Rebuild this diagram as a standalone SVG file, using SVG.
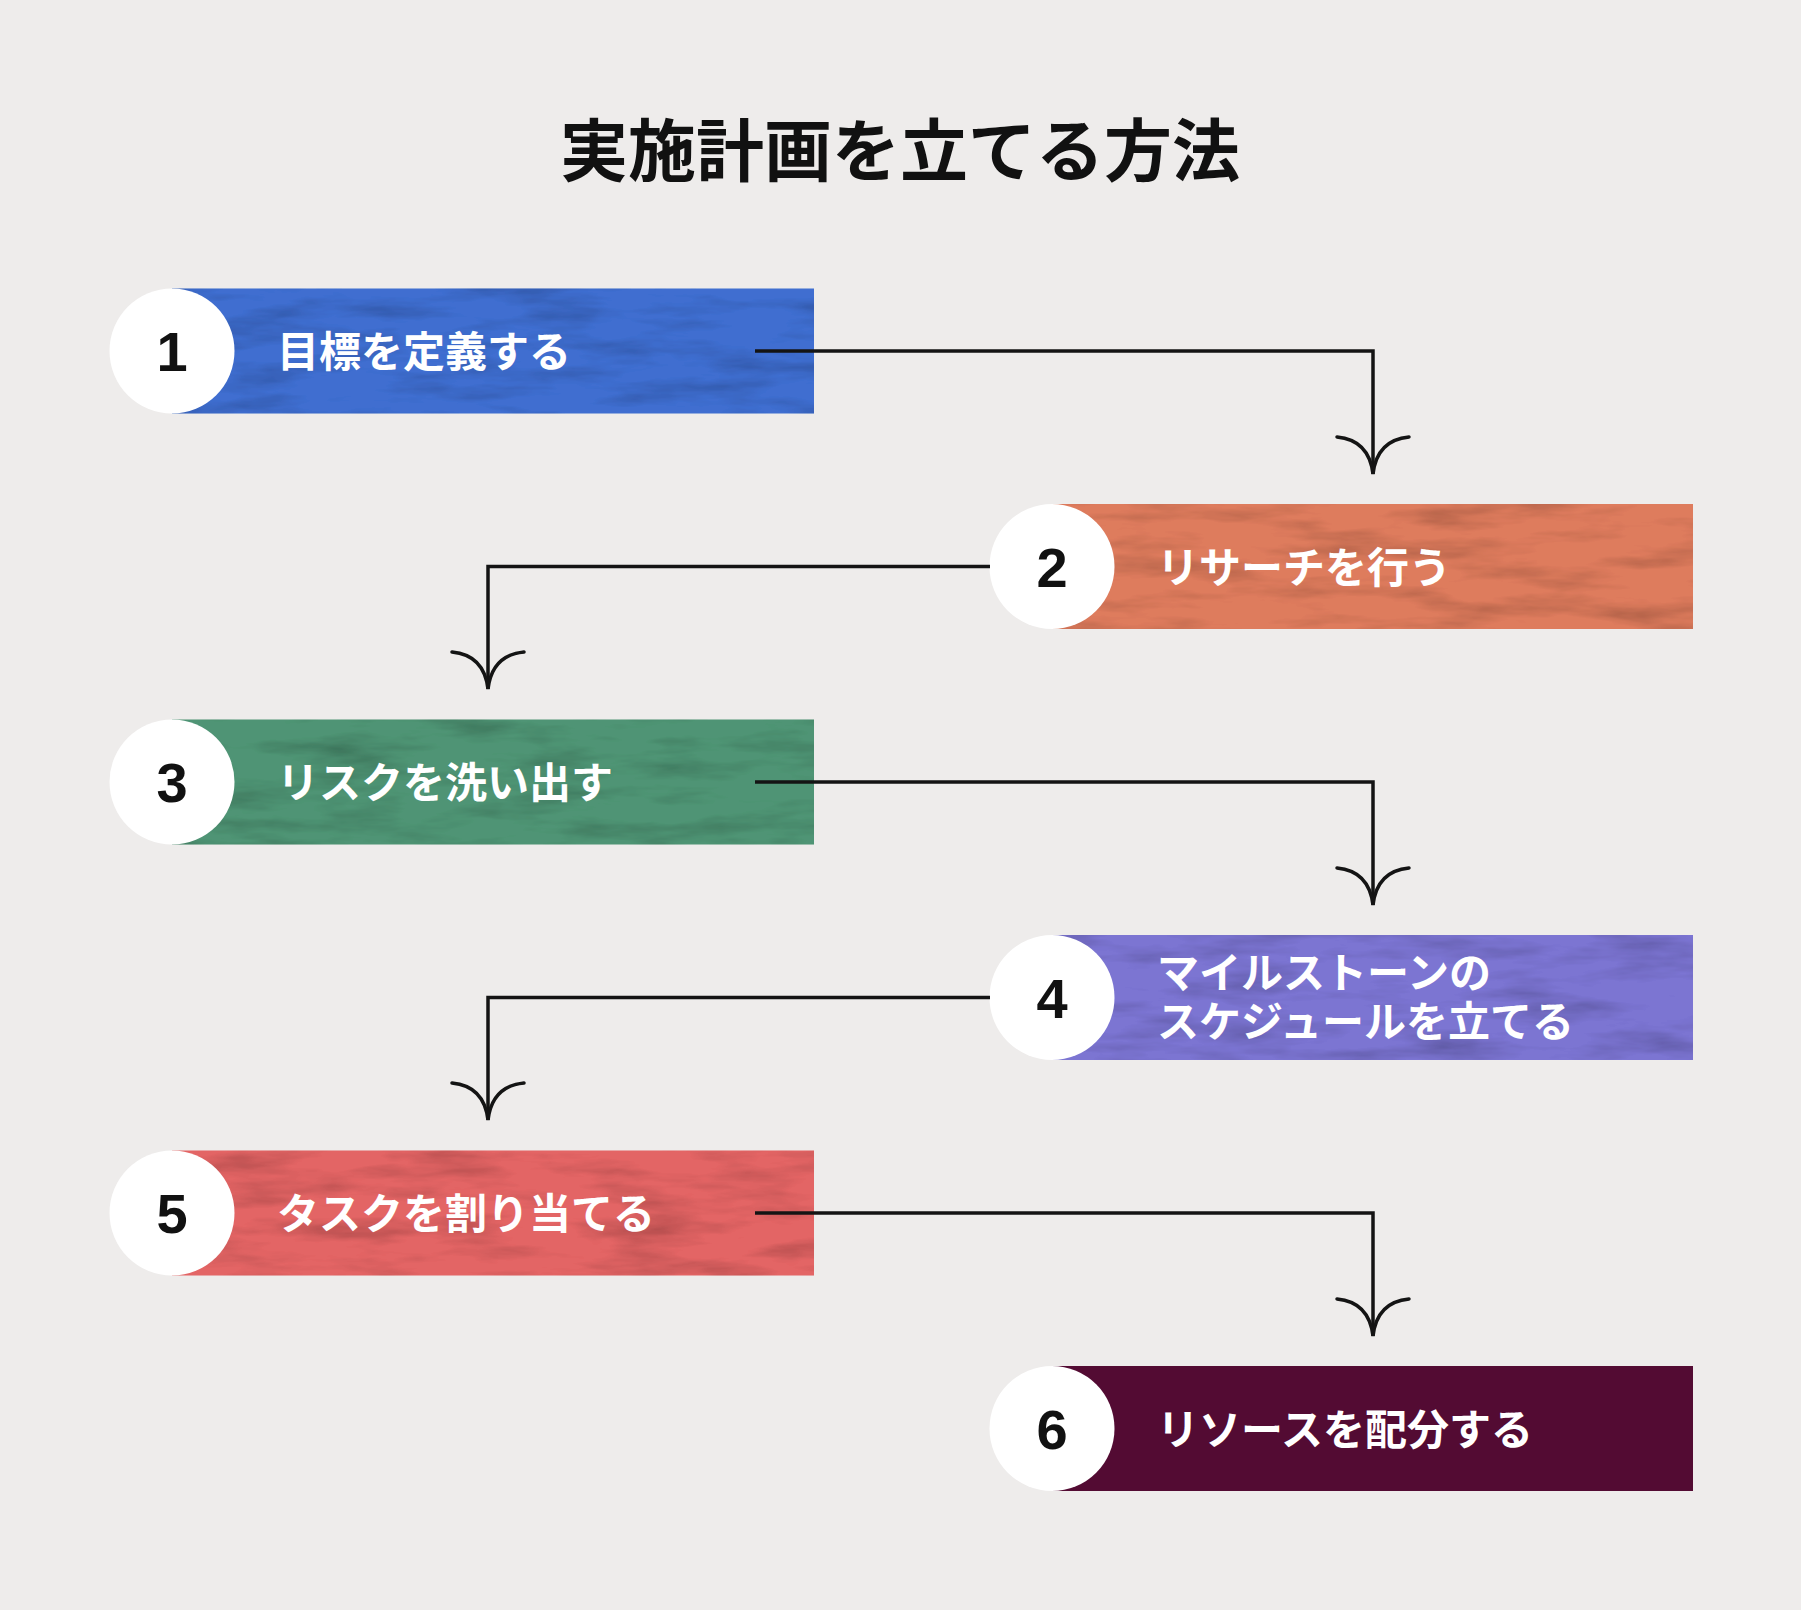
<svg xmlns="http://www.w3.org/2000/svg" width="1801" height="1610" viewBox="0 0 1801 1610">
  <style>
    .title { font-family: "Noto Sans CJK JP", "Noto Sans", sans-serif; font-weight: 700; font-size: 68px; fill: #111111; }
    .label { font-family: "Noto Sans CJK JP", "Noto Sans", sans-serif; font-weight: 700; font-size: 42px; fill: #ffffff; }
    .num { font-family: "Liberation Sans", Arial, sans-serif; font-weight: 700; font-size: 56px; fill: #111111; text-anchor: middle; }
    .circle { fill: #ffffff; }
    .conn { fill: none; stroke: #141414; stroke-width: 3.5; }
    .ah { fill: none; stroke: #141414; stroke-width: 3.5; stroke-linecap: round; }
  </style>
  <defs>
    <filter id="tex" x="0" y="0" width="1" height="1">
      <feTurbulence type="fractalNoise" baseFrequency="0.01 0.05" numOctaves="4" seed="7" result="n"/>
      <feColorMatrix in="n" type="matrix" values="0 0 0 0 0  0 0 0 0 0  0 0 0 0 0  0 0 0 0.8 -0.36" result="a"/>
      <feComposite in="a" in2="SourceGraphic" operator="in" result="d"/>
      <feMerge>
        <feMergeNode in="SourceGraphic"/>
        <feMergeNode in="d"/>
      </feMerge>
    </filter>
    <marker id="arr" markerUnits="userSpaceOnUse" orient="auto" overflow="visible" refX="0" refY="0" markerWidth="1" markerHeight="1">
      <path class="ah" d="M-37,-36 Q-34,-4 0,0 Q-34,4 -37,36"/>
    </marker>
  </defs>

  <rect x="0" y="0" width="1801" height="1610" fill="#EEECEB"/>

  <text class="title" x="900" y="176" text-anchor="middle">実施計画を立てる方法</text>

  <g id="node1">
    <rect x="172" y="288.5" width="642" height="125" fill="#3F6ED0" filter="url(#tex)"/>
    <circle class="circle" cx="172" cy="351" r="62.5"/>
    <text class="num" x="172" y="371">1</text>
    <text class="label" x="277" y="367">目標を定義する</text>
  </g>

  <g id="node2">
    <rect x="1052" y="504" width="641" height="125" fill="#DE7C5D" filter="url(#tex)"/>
    <circle class="circle" cx="1052" cy="566.5" r="62.5"/>
    <text class="num" x="1052" y="586.5">2</text>
    <text class="label" x="1157" y="582.5">リサーチを行う</text>
  </g>

  <g id="node3">
    <rect x="172" y="719.5" width="642" height="125" fill="#4F9475" filter="url(#tex)"/>
    <circle class="circle" cx="172" cy="782" r="62.5"/>
    <text class="num" x="172" y="802">3</text>
    <text class="label" x="277" y="798">リスクを洗い出す</text>
  </g>

  <g id="node4">
    <rect x="1052" y="935" width="641" height="125" fill="#7C74D2" filter="url(#tex)"/>
    <circle class="circle" cx="1052" cy="997.5" r="62.5"/>
    <text class="num" x="1052" y="1017.5">4</text>
    <text class="label" x="1157" y="988"><tspan x="1157" y="988">マイルストーンの</tspan><tspan x="1157" y="1037">スケジュールを立てる</tspan></text>
  </g>

  <g id="node5">
    <rect x="172" y="1150.5" width="642" height="125" fill="#E36565" filter="url(#tex)"/>
    <circle class="circle" cx="172" cy="1213" r="62.5"/>
    <text class="num" x="172" y="1233">5</text>
    <text class="label" x="277" y="1229">タスクを割り当てる</text>
  </g>

  <g id="node6">
    <rect x="1052" y="1366" width="641" height="125" fill="#530B33"/>
    <circle class="circle" cx="1052" cy="1428.5" r="62.5"/>
    <text class="num" x="1052" y="1448.5">6</text>
    <text class="label" x="1157" y="1444.5">リソースを配分する</text>
  </g>

  <g id="connectors">
    <path class="conn" d="M755 351 H1373 V474" marker-end="url(#arr)"/>
    <path class="conn" d="M990 566.5 H488 V689" marker-end="url(#arr)"/>
    <path class="conn" d="M755 782 H1373 V905" marker-end="url(#arr)"/>
    <path class="conn" d="M990 997.5 H488 V1120" marker-end="url(#arr)"/>
    <path class="conn" d="M755 1213 H1373 V1336" marker-end="url(#arr)"/>
  </g>
</svg>
